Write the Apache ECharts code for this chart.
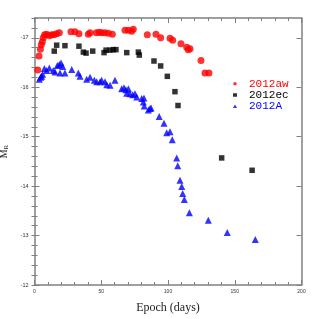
<!DOCTYPE html>
<html>
<head>
<meta charset="utf-8">
<script src="https://cdn.jsdelivr.net/npm/echarts@6/dist/echarts.min.js"></script>
<style>html,body{margin:0;padding:0;background:#fff}#c{width:319px;height:319px}</style>
</head>
<body>
<div id="c"></div>
<script>
// 2012aw: [epoch (days), M_R]
const sn2012aw = [[2.4,-16.35],[3.4,-16.63],[4.4,-16.77],[5.1,-16.86],[5.9,-16.92],[6.6,-17.0],[7.6,-17.06],[9.1,-17.07],[11.1,-17.04],[12.9,-17.06],[14.6,-17.06],[16.6,-17.08],[18.6,-17.1],[27.3,-17.12],[30.3,-17.12],[33.3,-17.08],[40.3,-17.07],[41.6,-17.1],[46.3,-17.1],[48.5,-17.11],[50.3,-17.1],[52.8,-17.1],[55.3,-17.09],[58.3,-17.07],[67.8,-17.15],[70.3,-17.15],[72.8,-17.13],[74,-17.17],[84.5,-17.06],[91,-17.07],[94.5,-17.0],[101.5,-16.99],[103.5,-16.95],[109.7,-16.88],[114,-16.81],[115.2,-16.76],[116.5,-16.78],[124.7,-16.54],[127.7,-16.29],[130.7,-16.29]];
// 2012ec
const sn2012ec = [[14.8,-16.73],[16.6,-16.85],[22.8,-16.84],[33.3,-16.83],[36.6,-16.71],[38.6,-16.69],[43.6,-16.73],[52.1,-16.70],[53.6,-16.75],[56.6,-16.75],[59,-16.76],[61,-16.76],[69.1,-16.70],[77.8,-16.71],[78.5,-16.65],[89.5,-16.53],[94.5,-16.43],[99.5,-16.22],[105.2,-15.91],[107.5,-15.63],[140.2,-14.57],[163,-14.32]];
// 2012A
const sn2012A = [[3.6,-16.16],[4.6,-16.2],[5.4,-16.22],[6.1,-16.26],[7.4,-16.38],[9.1,-16.34],[11.1,-16.39],[14.1,-16.34],[15.4,-16.31],[17.1,-16.44],[18.6,-16.46],[19.9,-16.49],[21.1,-16.42],[19.1,-16.29],[22.8,-16.29],[27.9,-16.36],[32.8,-16.29],[34.1,-16.22],[39.1,-16.16],[41.6,-16.2],[44.8,-16.14],[46.6,-16.11],[49.1,-16.11],[50.3,-16.14],[52.8,-16.11],[54.1,-16.05],[56.6,-16.04],[60.3,-16.14],[65.3,-15.97],[67,-15.99],[68.5,-15.95],[70.3,-15.97],[69.1,-15.88],[71.5,-15.87],[73.6,-15.85],[75.3,-15.87],[76.6,-15.8],[80.3,-15.77],[82,-15.78],[81.5,-15.70],[82.2,-15.62],[85.3,-15.54],[86.5,-15.57],[87.3,-15.58],[93.4,-15.41],[97,-15.27],[99,-15.08],[101.5,-15.10],[103.2,-14.94],[106.5,-14.57],[107.3,-14.41],[109,-14.12],[110.3,-13.99],[111,-13.85],[112.2,-13.73],[116,-13.46],[130.2,-13.31],[144.4,-13.06],[165.4,-12.92]];

const yTickValues = [-17, -16, -15, -14, -13, -12];
const seriesNames = ['2012aw', '2012ec', '2012A'];
const seriesColors = ['#ff0000', '#000000', '#0000ff'];

const frame = '#808080';
const chart = echarts.init(document.getElementById('c'));

function xAx(pos, labels) {
  return {
    type: 'value', position: pos, min: 0, max: 200, interval: 50,
    axisLine: {show: true, onZero: false, lineStyle: {color: frame, width: 1.5}},
    axisTick: {show: true, inside: true, length: 5, lineStyle: {color: frame, width: 1}},
    minorTick: {show: true, splitNumber: 5, length: 3, lineStyle: {color: frame, width: 1}},
    axisLabel: {show: labels, fontSize: 5, color: '#333', margin: 4, fontFamily: 'Liberation Sans'},
    splitLine: {show: false},
    name: labels ? 'Epoch (days)' : '',
    nameLocation: 'middle', nameGap: 17,
    nameTextStyle: {fontFamily: 'Liberation Serif', fontSize: 12, color: '#222'}
  };
}
function yMajor(pos, labels) {
  return {
    type: 'value', position: pos, inverse: true, min: -17.4, max: -12, interval: 0.2,
    axisLine: {show: true, onZero: false, lineStyle: {color: frame, width: 1.5}},
    axisTick: {show: true, inside: true, length: 5, customValues: yTickValues, lineStyle: {color: frame, width: 1}},
    axisLabel: {show: labels, customValues: yTickValues, fontSize: 5.5, color: '#333', margin: 6, fontFamily: 'Liberation Sans'},
    splitLine: {show: false},
    name: labels ? '{m|M}{r|R}' : '',
    nameLocation: 'middle', nameGap: 22,
    nameTextStyle: {color: '#222', rich: {
      m: {fontFamily: 'Liberation Serif', fontSize: 10, color: '#222', verticalAlign: 'bottom', lineHeight: 11},
      r: {fontFamily: 'Liberation Serif', fontSize: 7, color: '#222', verticalAlign: 'bottom', lineHeight: 2}
    }}
  };
}
function yMinor(pos) {
  return {
    type: 'value', position: pos, inverse: true, min: -17.4, max: -12, interval: 0.2,
    axisLine: {show: false},
    axisTick: {show: true, inside: true, length: 3, lineStyle: {color: frame, width: 1}},
    axisLabel: {show: false},
    splitLine: {show: false}
  };
}

const symbols = ['circle', 'rect', 'triangle'];
const sizes = [7, 5.5, 7];
const datas = [sn2012aw, sn2012ec, sn2012A];

chart.setOption({
  animation: false,
  backgroundColor: '#fff',
  grid: {left: 34.5, right: 17.5, top: 18, bottom: 34, containLabel: false, outerBoundsMode: 'none'},
  xAxis: [xAx('bottom', true), xAx('top', false)],
  yAxis: [yMajor('left', true), yMinor('left'), yMajor('right', false), yMinor('right')],
  legend: {
    orient: 'vertical', left: 228, top: 73.2,
    itemWidth: 4, itemHeight: 3.5, itemGap: 0.3,
    textStyle: {fontFamily: 'Liberation Mono', fontSize: 11, lineHeight: 9, padding: [0, 0, 0, 7]},
    data: seriesNames.map((n, i) => ({name: n, textStyle: {color: seriesColors[i]}}))
  },
  series: seriesNames.map((n, i) => ({
    name: n, type: 'scatter', xAxisIndex: 0, yAxisIndex: 0,
    symbol: symbols[i], symbolSize: sizes[i],
    itemStyle: {color: seriesColors[i]},
    data: datas[i]
  }))
});
</script>
</body>
</html>
